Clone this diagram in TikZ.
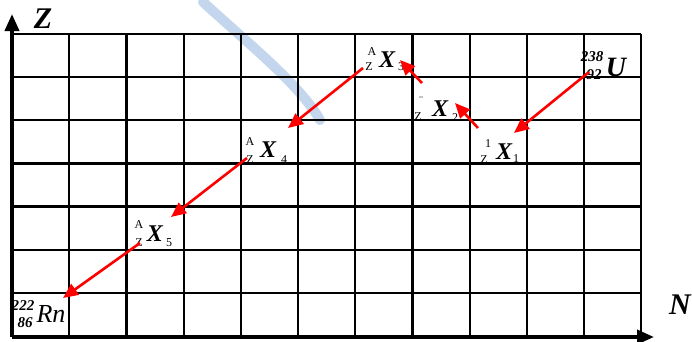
\documentclass[tikz,border=0pt]{standalone}
\usepackage{fontspec}
\setmainfont{Liberation Serif}
\usetikzlibrary{arrows.meta}
\tikzset{
  gridline/.style={line width=2.2pt, black},
  axisline/.style={line width=3.8pt, black, -{Triangle[length=17pt,width=14pt]}},
  decay/.style={red, line width=2.6pt, -{Triangle[length=15pt,width=13pt]}},
  big/.style={font=\fontsize{24}{24}\selectfont\bfseries\itshape, inner sep=0pt},
  axlbl/.style={font=\fontsize{30}{30}\selectfont\bfseries\itshape, inner sep=0pt},
  small/.style={font=\fontsize{12}{12}\selectfont, inner sep=0pt},
  nuc/.style={font=\fontsize{15}{15}\selectfont\bfseries\itshape, inner sep=0pt},
}
\begin{document}
\begin{tikzpicture}[x=1pt,y=-1pt]
\useasboundingbox (0,0) rectangle (692,341);
% faint blue stroke
\draw[line width=10pt, color={rgb,255:red,196;green,214;blue,238}, line cap=round]
  (203,2) .. controls (250,45) and (300,85) .. (320,120);
% grid
\foreach \k in {1,...,11} \draw[gridline] ({12+57.2*\k},34) -- ({12+57.2*\k},336);
\foreach \j in {0,...,6} \draw[gridline] (12,{34+43.14*\j}) -- (641,{34+43.14*\j});
% axes
\coordinate (O) at (12,337);
\coordinate (Ztip) at (12,14);
\coordinate (Ntip) at (654,337);
\draw[axisline] (O) -- (Ztip);
\draw[axisline] (O) -- (Ntip);
\node[axlbl] (Zl) at (43,19) {Z};
\node[axlbl] (Nl) at (680,305) {N};
% U
\node[nuc] (U238) at (592,57) {238};
\node[nuc] (U92) at (594,75) {92};
\node[font=\fontsize{28}{28}\selectfont\bfseries\itshape, inner sep=0pt] (U) at (616,67) {U};
% X1
\node[small] (X1a) at (488,144) {1};
\node[small] (X1z) at (484,160) {Z};
\node[big] (X1) at (504,152) {X};
\node[small] (X1s) at (516,159) {1};
% X2
\node[small] (X2a) at (421,101) {¨};
\node[small] (X2z) at (418,117) {Z};
\node[big] (X2) at (440,109) {X};
\node[small] (X2s) at (455,118) {2};
% X3
\node[small] (X3a) at (372,52) {A};
\node[small] (X3z) at (369,67) {Z};
\node[big] (X3) at (387,60) {X};
\node[small] (X3s) at (401,67) {3};
% X4
\node[small] (X4a) at (250,142) {A};
\node[small] (X4z) at (250,160) {Z};
\node[big] (X4) at (268,150) {X};
\node[small] (X4s) at (284,160) {4};
% X5
\node[small] (X5a) at (139,225) {A};
\node[small] (X5z) at (139,243) {Z};
\node[big] (X5) at (155,234) {X};
\node[small] (X5s) at (169,243) {5};
% Rn
\node[nuc] (Rn222) at (23,306) {222};
\node[nuc] (Rn86) at (25,323) {86};
\node[font=\fontsize{26}{26}\selectfont\itshape, inner sep=0pt] (Rn) at (51,314) {Rn};
% arrow endpoints
\coordinate (a1) at (589,72);  \coordinate (b1) at (514,133);
\coordinate (a2) at (478,128); \coordinate (b2) at (455,103);
\coordinate (a3) at (422,83);  \coordinate (b3) at (400,60);
\coordinate (a4) at (363,68);  \coordinate (b4) at (288,128);
\coordinate (a5) at (247,158); \coordinate (b5) at (171,217);
\coordinate (a6) at (140,243); \coordinate (b6) at (63,298);
\draw[decay] (a1) -- (b1);
\draw[decay] (a2) -- (b2);
\draw[decay] (a3) -- (b3);
\draw[decay] (a4) -- (b4);
\draw[decay] (a5) -- (b5);
\draw[decay] (a6) -- (b6);
\end{tikzpicture}
\end{document}
